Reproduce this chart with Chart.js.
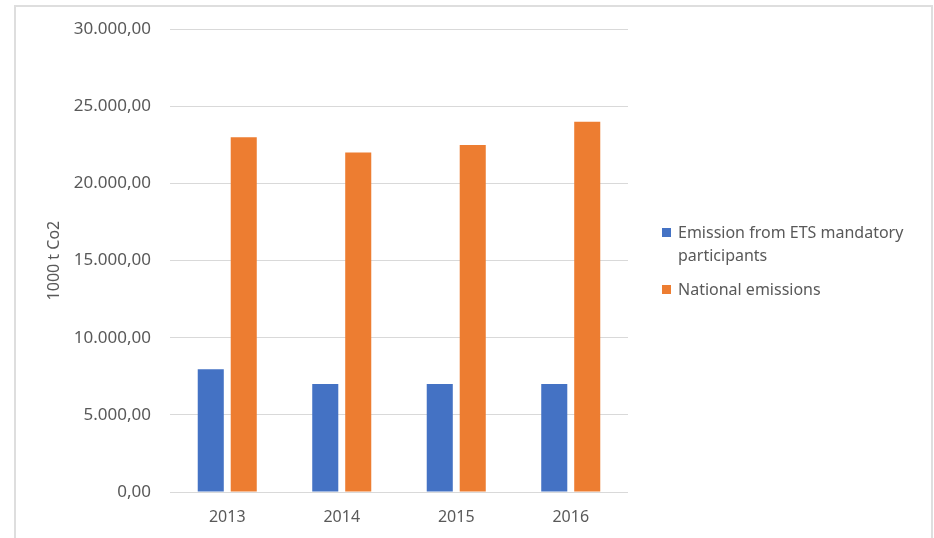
<!DOCTYPE html>
<html>
<head>
<meta charset="utf-8">
<script src="https://cdn.jsdelivr.net/npm/chart.js@4.4.1/dist/chart.umd.min.js"></script>
<style>
body{margin:0;background:#fff;font-family:"Noto Sans",sans-serif;}
#wrap{position:relative;width:934px;height:538px;overflow:hidden;}
#frame{position:absolute;left:14px;top:5px;width:915px;height:600px;border:2px solid #dedede;}
#box{position:absolute;left:0;top:0;width:934px;height:538px;}
#legend{position:absolute;left:662px;top:221px;width:262px;color:#595959;font-size:16px;line-height:23px;}
.item{position:relative;padding-left:16px;margin-bottom:11px;}
.item span{position:absolute;left:0;top:7px;width:9px;height:9px;}
</style>
</head>
<body>
<div id="wrap">
<div id="frame"></div>
<div id="box"><canvas id="chart"></canvas></div>
<div id="legend"></div>
</div>
<script>

// values (1000 t CO2)
const years=["2013","2014","2015","2016"];
const etsEmissions=[7950,7000,7000,7000];
const nationalEmissions=[23000,22000,22500,24000];
const seriesNames=["Emission from ETS mandatory participants","National emissions"];
const seriesColors=["#4472C4","#ED7D31"];
const yMax=30000;
const yStep=5000;
const yTitle="1000 t Co2";

const textColor="#595959";
const gridColor="#d9d9d9";

function fmt(v){
let parts=v.toFixed(2).split(".");
let intPart=parts[0].replace(/\B(?=(\d{3})+(?!\d))/g,".");
return intPart+","+parts[1];
}

const seriesData=[etsEmissions,nationalEmissions];

new Chart(document.getElementById("chart"),{
type:"bar",
data:{
labels:years,
datasets:seriesData.map((d,i)=>({
label:seriesNames[i],
data:d,
backgroundColor:seriesColors[i],
borderWidth:0,
categoryPercentage:0.576,
barPercentage:0.79
}))
},
options:{
responsive:true,
maintainAspectRatio:false,
animation:false,
layout:{padding:{left:45,top:29,right:306,bottom:0}},
plugins:{legend:{display:false},tooltip:{enabled:false}},
scales:{
x:{
grid:{display:false},
border:{display:false},
ticks:{color:textColor,font:{family:"Noto Sans",size:16},padding:8},
afterFit:s=>{s.height=46;}
},
y:{
min:0,
max:yMax,
ticks:{stepSize:yStep,color:textColor,font:{family:"Noto Sans",size:17},padding:19,callback:v=>fmt(v)},
grid:{color:gridColor,lineWidth:1,drawTicks:false},
border:{display:false},
title:{display:true,text:yTitle,color:textColor,font:{family:"Noto Sans",size:16},padding:{top:0,bottom:0}},
afterFit:s=>{s.width=125;}
}
}
}
});

// legend on the right, text wraps like in the original
let legend=document.getElementById("legend");
seriesNames.forEach((name,i)=>{
let item=document.createElement("div");
item.className="item";
let box=document.createElement("span");
box.style.background=seriesColors[i];
item.appendChild(box);
item.appendChild(document.createTextNode(name));
legend.appendChild(item);
});

</script>
</body>
</html>
